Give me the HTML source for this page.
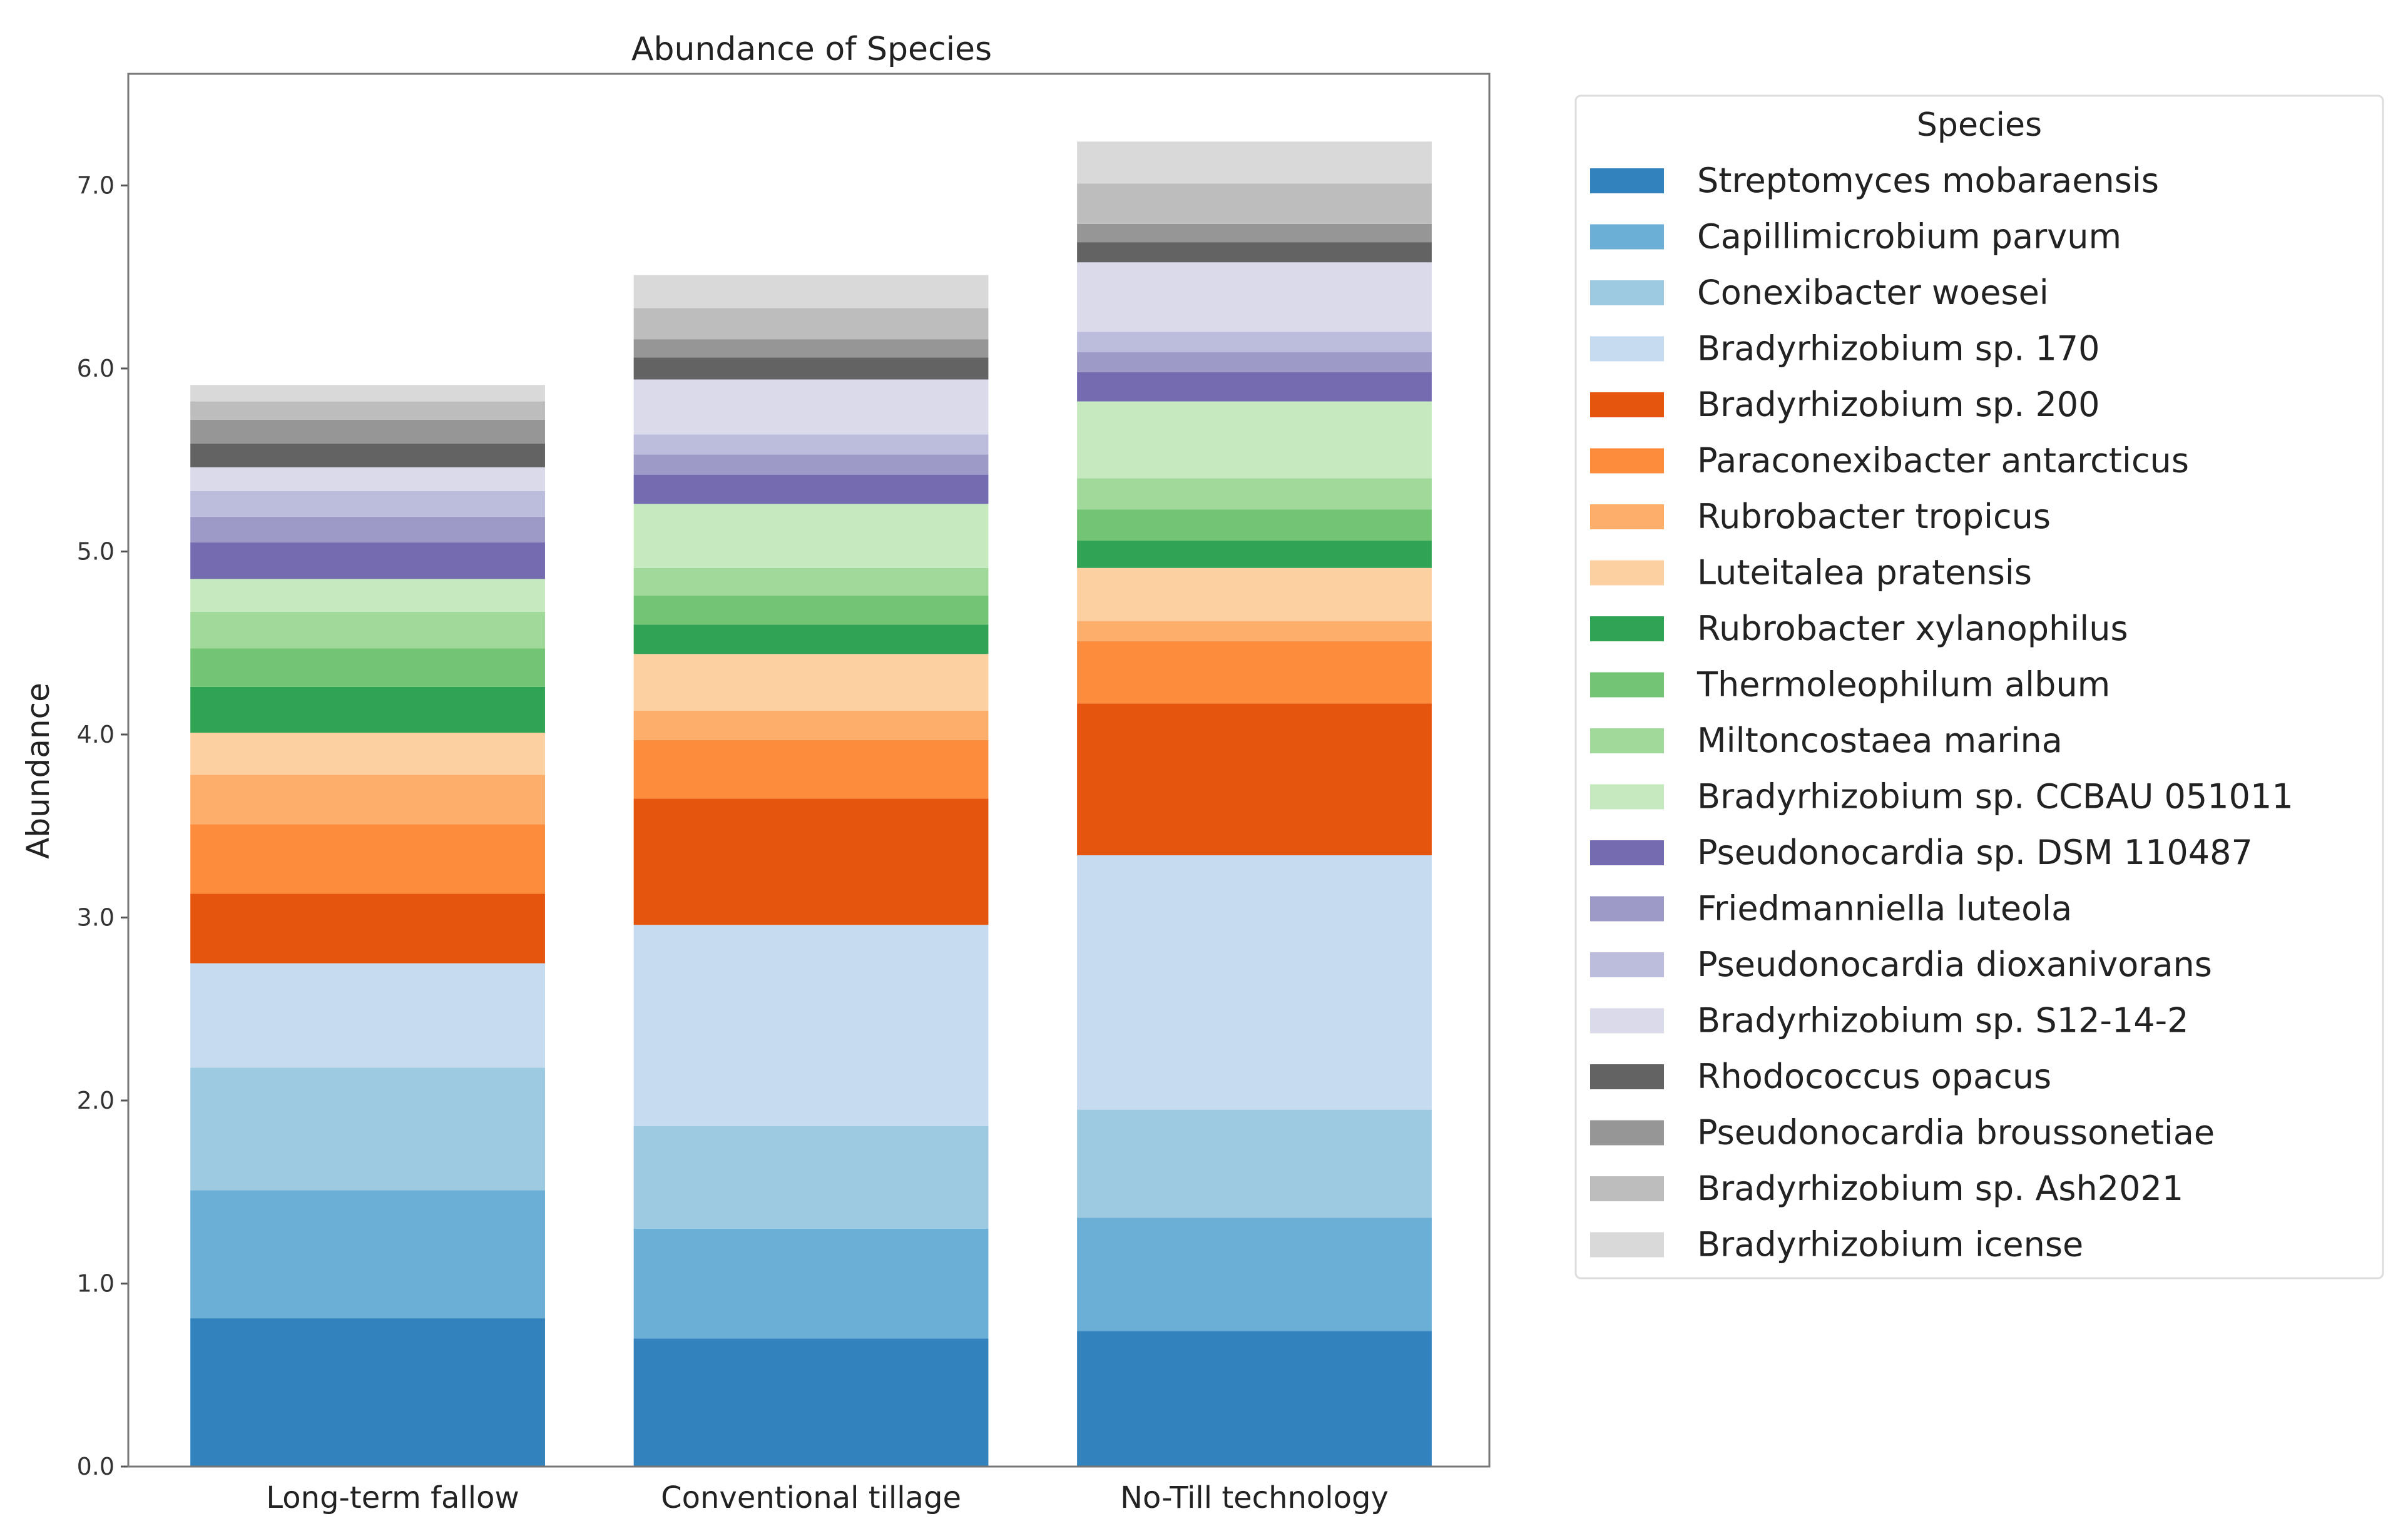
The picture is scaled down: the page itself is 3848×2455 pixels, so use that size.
<!DOCTYPE html>
<html><head><meta charset="utf-8"><style>
html,body{margin:0;padding:0;background:#fff;}
svg{display:block;font-family:"DejaVu Sans","Liberation Sans",sans-serif;}
</style></head><body>
<svg id="chart" width="3848" height="2455" viewBox="0 0 3848 2455" xmlns="http://www.w3.org/2000/svg">
<text x="1297" y="96" font-size="52" text-anchor="middle" fill="#222">Abundance of Species</text>
<g id="plot"></g>
<text transform="translate(78,1232) rotate(-90)" font-size="50" text-anchor="middle" fill="#222">Abundance</text>
<g id="legend"></g>
</svg>
<script>
const categories = ["Long-term fallow","Conventional tillage","No-Till technology"];
const species = ["Streptomyces mobaraensis","Capillimicrobium parvum","Conexibacter woesei","Bradyrhizobium sp. 170","Bradyrhizobium sp. 200","Paraconexibacter antarcticus","Rubrobacter tropicus","Luteitalea pratensis","Rubrobacter xylanophilus","Thermoleophilum album","Miltoncostaea marina","Bradyrhizobium sp. CCBAU 051011","Pseudonocardia sp. DSM 110487","Friedmanniella luteola","Pseudonocardia dioxanivorans","Bradyrhizobium sp. S12-14-2","Rhodococcus opacus","Pseudonocardia broussonetiae","Bradyrhizobium sp. Ash2021","Bradyrhizobium icense"];
const fallowValues = [0.81,0.70,0.67,0.57,0.38,0.38,0.27,0.23,0.25,0.21,0.20,0.18,0.20,0.14,0.14,0.13,0.13,0.13,0.10,0.09];
const tillageValues = [0.70,0.60,0.56,1.10,0.69,0.32,0.16,0.31,0.16,0.16,0.15,0.35,0.16,0.11,0.11,0.30,0.12,0.10,0.17,0.18];
const noTillValues = [0.74,0.62,0.59,1.39,0.83,0.34,0.11,0.29,0.15,0.17,0.17,0.42,0.16,0.11,0.11,0.38,0.11,0.10,0.22,0.23];
const yTicks = [0,1,2,3,4,5,6,7];
const yTickLabels = ["0.0","1.0","2.0","3.0","4.0","5.0","6.0","7.0"];
const colors = ["#3182bd","#6baed6","#9ecae1","#c6dbef","#e6550d","#fd8d3c","#fdae6b","#fdd0a2","#31a354","#74c476","#a1d99b","#c7e9c0","#756bb1","#9e9ac8","#bcbddc","#dadaeb","#636363","#969696","#bdbdbd","#d9d9d9"];
const series = [fallowValues, tillageValues, noTillValues];

const NS="http://www.w3.org/2000/svg";
const L=205,R=2380,T=118,B=2344;
const yMin=0,yMax=7.61,xMin=-0.54,xMax=2.53;
function yScale(v){return B-(v-yMin)/(yMax-yMin)*(B-T);}
function xScale(v){return L+(v-xMin)/(xMax-xMin)*(R-L);}
const bw=0.8;
function mk(tag,attrs,parent){const e=document.createElementNS(NS,tag);for(const k in attrs)e.setAttribute(k,attrs[k]);parent.appendChild(e);return e;}
const plot=document.getElementById('plot');
series.forEach((vals,ci)=>{
  let base=0;
  vals.forEach((v,si)=>{
    const x0=xScale(ci-bw/2),x1=xScale(ci+bw/2);
    const r=mk('rect',{x:x0,y:yScale(base+v),width:x1-x0,height:yScale(base)-yScale(base+v),fill:colors[si]},plot);
    
    
    base+=v;
  });
  const t=mk('text',{x:xScale(ci)+(ci===0?40:0),y:2410,'font-size':48,'text-anchor':'middle',fill:'#222'},plot);
  t.textContent=categories[ci];
  
  
});
yTicks.forEach((v,i)=>{
  const y=yScale(v);
  const tk=mk('line',{x1:L-12,x2:L,y1:y,y2:y,stroke:'#555','stroke-width':3},plot);
  
  
  const t=mk('text',{x:L-22,y:y+13,'font-size':38,'text-anchor':'end',fill:'#333'},plot);
  t.textContent=yTickLabels[i];
  
  
});
const frame=mk('rect',{x:L,y:T,width:R-L,height:B-T,fill:'none',stroke:'#777','stroke-width':3},plot);



const lg=document.getElementById('legend');
const box=mk('rect',{x:2518,y:153,width:1290,height:1890,fill:'#fff',stroke:'#ddd','stroke-width':3,rx:8},lg);


const lt=mk('text',{x:3163,y:217,'font-size':52,'text-anchor':'middle',fill:'#222'},lg);
lt.textContent='Species';


species.forEach((s,i)=>{
  const y=289+i*89.5;
  const g=mk('g',{},lg);
  
  
  mk('rect',{x:2541,y:y-20,width:118,height:40,fill:colors[i]},g);
  const t=mk('text',{x:2712,y:y+18,'font-size':54,fill:'#222'},g);
  t.textContent=s;
});
</script>
</body></html>
